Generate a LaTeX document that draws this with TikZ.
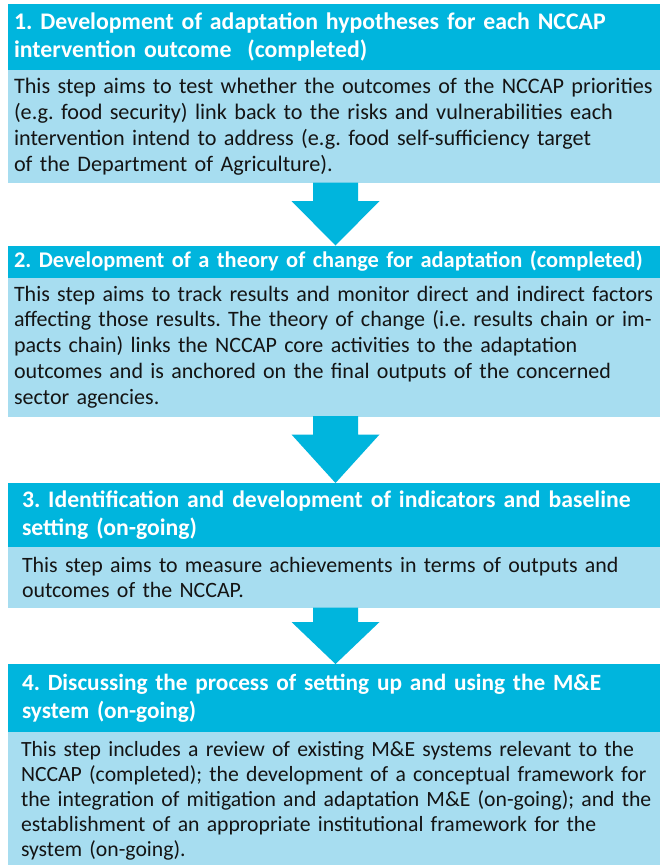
\documentclass[tikz,border=0pt]{standalone}
\usepackage{fontspec}
\setmainfont{Carlito}
\usetikzlibrary{calc}
\definecolor{headc}{RGB}{0,181,221}
\definecolor{bodyc}{RGB}{167,221,240}
\definecolor{bodytext}{RGB}{20,20,20}
\newcommand\fsz[2]{\fontsize{#1}{#2}\selectfont\frenchspacing}
\tikzset{
  boxbase/.style={anchor=north west, minimum width=651pt, inner ysep=0pt, align=left, outer sep=0pt},
  headbox/.style={boxbase, fill=headc, text=white},
  bodybox/.style={boxbase, fill=bodyc, text=bodytext},
  narrowpad/.style={inner xsep=6pt, text width=660pt},
  widepad/.style={inner xsep=14pt, text width=660pt},
  arrowfill/.style={fill=headc}
}
\newcommand\stepArrow[3]{%
  \coordinate (s) at ($(#1.south west)+(327.5,0.5)$);
  \coordinate (t) at ($(#2.north west)+(327.5,0)$);
  \fill[arrowfill] ($(s)+(-22.5,0)$) -- ($(s)+(-22.5,-#3)$) -- ($(s)+(-44,-#3)$) -- (t)
    -- ($(s)+(44,-#3)$) -- ($(s)+(22.5,-#3)$) -- ($(s)+(22.5,0)$) -- cycle;
}
\begin{document}
\begin{tikzpicture}[x=1pt,y=1pt]
\useasboundingbox (0,0) rectangle (659,-865);
\fill[white] (0,0) rectangle (659,-865);
% Step 1
\node[headbox, narrowpad, minimum height=66pt, font=\fsz{23.8}{27.5}\bfseries] (h1) at (8,-4)
  {1. Development of adaptation hypotheses for each NCCAP\\intervention outcome\ \ (completed)};
\node[bodybox, narrowpad, minimum height=113pt, font=\fsz{22.2}{25.8}] (b1) at (h1.south west)
  {This step aims to test whether the outcomes of the NCCAP priorities\\(e.g. food security) link back to the risks and vulnerabilities each\\intervention intend to address (e.g. food self-sufficiency target\\of the Department of Agriculture).};
% Step 2
\node[headbox, narrowpad, minimum height=32pt, font=\fsz{22.4}{27}\bfseries] (h2) at (8,-245.5)
  {2. Development of a theory of change for adaptation (completed)};
\node[bodybox, narrowpad, minimum height=139pt, font=\fsz{22}{25.8}] (b2) at (h2.south west)
  {This step aims to track results and monitor direct and indirect factors\\affecting those results. The theory of change (i.e. results chain or im-\\pacts chain) links the NCCAP core activities to the adaptation\\outcomes and is anchored on the final outputs of the concerned\\sector agencies.};
% Step 3
\node[headbox, widepad, minimum height=64pt, font=\fsz{23.7}{28}\bfseries] (h3) at (8,-483)
  {3. Identification and development of indicators and baseline\\setting (on-going)};
\node[bodybox, widepad, minimum height=61pt, font=\fsz{21.9}{25.8}] (b3) at (h3.south west)
  {This step aims to measure achievements in terms of outputs and\\outcomes of the NCCAP.};
% Step 4
\node[headbox, widepad, minimum height=68pt, font=\fsz{23.3}{28}\bfseries] (h4) at (8,-664)
  {4. Discussing the process of setting up and using the M\&E\\system (on-going)};
\node[bodybox, minimum height=137pt, inner xsep=13pt, text width=660pt, font=\fsz{21.7}{25}] (b4) at (h4.south west)
  {This step includes a review of existing M\&E systems relevant to the\\NCCAP (completed); the development of a conceptual framework for\\the integration of mitigation and adaptation M\&E (on-going); and the\\establishment of an appropriate institutional framework for the\\system (on-going).};
% Arrows
\stepArrow{b1}{h2}{18.5}
\stepArrow{b2}{h3}{18.5}
\stepArrow{b3}{h4}{14.5}
\end{tikzpicture}
\end{document}
